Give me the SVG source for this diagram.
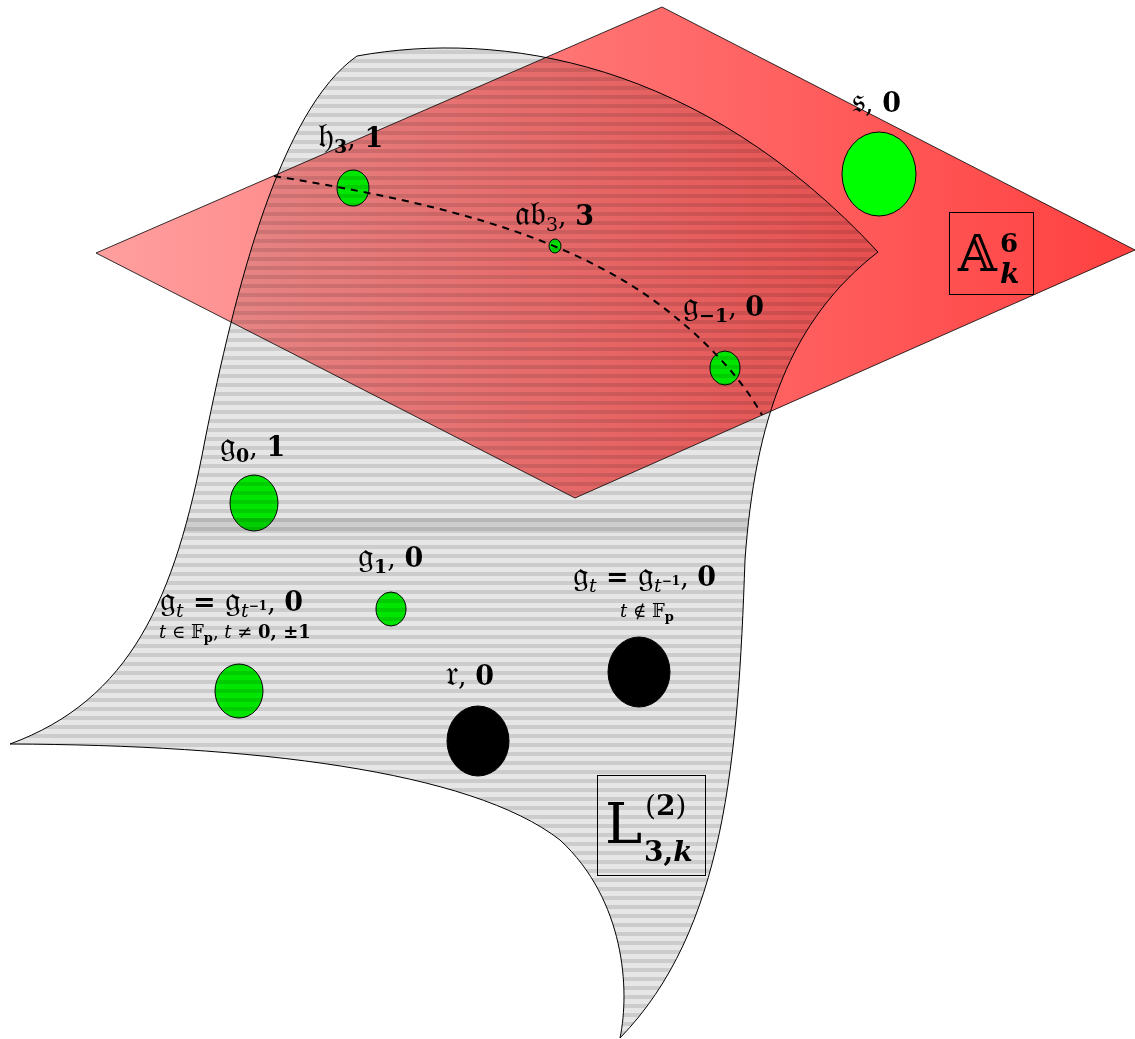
<svg xmlns="http://www.w3.org/2000/svg" width="1135" height="1039" viewBox="0 0 1135 1039">
<style>
.lbl{font-family:"DejaVu Serif","Liberation Serif",serif;font-size:27px;font-weight:bold;fill:#000}
.frak{font-family:"DejaVu Serif","DejaVu Sans","Noto Sans",serif;font-weight:normal;font-size:35px}
.it{font-style:italic;font-weight:normal}
.nw{font-weight:normal}
.sub{font-size:19px}
.sm{font-size:18px}
.dot{fill:#00ff00;stroke:#000;stroke-width:1}
.blk{fill:#000;stroke:#000;stroke-width:1}
.box{fill:none;stroke:#000;stroke-width:1}
</style>
<defs>
<linearGradient id="red" x1="96" y1="0" x2="1135" y2="0" gradientUnits="userSpaceOnUse">
<stop offset="0" stop-color="#ff9f9f"/>
<stop offset="1" stop-color="#ff4040"/>
</linearGradient>
<pattern id="stripes" x="0" y="0" width="10" height="9" patternUnits="userSpaceOnUse">
<rect x="0" y="0" width="10" height="5" fill="#e6e6e6"/>
<rect x="0" y="5" width="10" height="4" fill="#cccccc"/>
</pattern>
<clipPath id="surfClip">
<path d="M357,56 C500,30 700,60 878,252 C790,320 755,420 745,560 C738,760 725,930 620,1038 C630,990 625,900 560,840 C470,770 250,745 10,744 C130,700 175,600 205,440 C235,290 280,110 357,56 Z"/>
</clipPath>
</defs>
<rect width="1135" height="1039" fill="#fff"/>
<g id="plane">
<path d="M662,7 L1135,250 L575,498 L96,253 Z" fill="url(#red)" stroke="#000" stroke-width="0.8"/>
</g>
<g id="nodes">
<g id="n-s"><ellipse class="dot" cx="879" cy="174" rx="37" ry="42"/></g>
<g id="n-h3"><ellipse class="dot" cx="353" cy="188" rx="16" ry="18"/></g>
<g id="n-ab3"><ellipse class="dot" cx="555" cy="246" rx="6" ry="7"/></g>
<g id="n-gm1"><ellipse class="dot" cx="725" cy="368" rx="15" ry="17"/></g>
<g id="n-g0"><ellipse class="dot" cx="254" cy="503" rx="24" ry="28"/></g>
<g id="n-g1"><ellipse class="dot" cx="391" cy="609" rx="15" ry="17"/></g>
<g id="n-gt"><ellipse class="dot" cx="239" cy="691" rx="24" ry="27"/></g>
<g id="n-gt2"><ellipse class="blk" cx="639" cy="672" rx="31" ry="35"/></g>
<g id="n-r"><ellipse class="blk" cx="478" cy="741" rx="31" ry="35"/></g>
</g>
<g id="surface" style="mix-blend-mode:multiply">
<path d="M357,56 C500,30 700,60 878,252 C790,320 755,420 745,560 C738,760 725,930 620,1038 C630,990 625,900 560,840 C470,770 250,745 10,744 C130,700 175,600 205,440 C235,290 280,110 357,56 Z" fill="url(#stripes)"/>
<rect x="0" y="518" width="1135" height="15" fill="#000" fill-opacity="0.1" clip-path="url(#surfClip)"/>
</g>
<g id="surface-outline">
<path d="M357,56 C500,30 700,60 878,252 C790,320 755,420 745,560 C738,760 725,930 620,1038 C630,990 625,900 560,840 C470,770 250,745 10,744 C130,700 175,600 205,440 C235,290 280,110 357,56 Z" fill="none" stroke="#000" stroke-width="1"/>
</g>
<g id="connectors">
<path d="M274,176 C420,200 560,230 660,305 C700,335 740,375 762,415" fill="none" stroke="#000" stroke-width="2" stroke-dasharray="7,6"/>
</g>
<g id="labels">
<text class="lbl" x="318" y="147"><tspan class="frak">𝔥</tspan><tspan class="sub" dy="6">3</tspan><tspan dy="-6" class="nw">, </tspan>1</text>
<text class="lbl" x="515" y="225"><tspan class="frak">𝔞𝔟</tspan><tspan class="sub nw" dy="6">3</tspan><tspan dy="-6" class="nw">, </tspan>3</text>
<text class="lbl" x="683" y="316"><tspan class="frak">𝔤</tspan><tspan class="sub" dy="6">−1</tspan><tspan dy="-6" class="nw">, </tspan>0</text>
<text class="lbl" x="852" y="112"><tspan class="frak">𝔰</tspan><tspan class="nw">, </tspan>0</text>
<text class="lbl" x="220" y="456"><tspan class="frak">𝔤</tspan><tspan class="sub" dy="6">0</tspan><tspan dy="-6" class="nw">, </tspan>1</text>
<text class="lbl" x="358" y="567"><tspan class="frak">𝔤</tspan><tspan class="sub" dy="6">1</tspan><tspan dy="-6" class="nw">, </tspan>0</text>
<text class="lbl" x="160" y="611"><tspan class="frak">𝔤</tspan><tspan class="it sub" dy="6">t</tspan><tspan dy="-6"> = </tspan><tspan class="frak">𝔤</tspan><tspan class="it sub" dy="6">t</tspan><tspan style="font-size:12px" dy="-7">−1</tspan><tspan dy="1" class="nw">, </tspan>0</text>
<text class="lbl sm" x="159" y="638"><tspan class="it">t</tspan><tspan class="nw"> ∈ 𝔽</tspan><tspan style="font-size:13px" dy="4">p</tspan><tspan dy="-4" class="nw">, </tspan><tspan class="it">t</tspan><tspan class="nw"> ≠ </tspan>0, ±1</text>
<text class="lbl" x="573" y="586"><tspan class="frak">𝔤</tspan><tspan class="it sub" dy="6">t</tspan><tspan dy="-6"> = </tspan><tspan class="frak">𝔤</tspan><tspan class="it sub" dy="6">t</tspan><tspan style="font-size:12px" dy="-7">−1</tspan><tspan dy="1" class="nw">, </tspan>0</text>
<text class="lbl sm" x="620" y="617"><tspan class="it">t</tspan><tspan class="nw"> ∉ 𝔽</tspan><tspan style="font-size:13px" dy="4">p</tspan></text>
<text class="lbl" x="446" y="685"><tspan class="frak">𝔯</tspan><tspan class="nw">, </tspan>0</text>
</g>
<g id="box-A">
<rect class="box" x="949.5" y="212.5" width="84" height="82"/>
<text class="lbl" x="958" y="271" style="font-size:50px;font-weight:normal">𝔸</text>
<text class="lbl" x="1000" y="252" style="font-size:26px">6</text>
<text class="lbl" x="1000" y="283" style="font-size:28px;font-style:italic">k</text>
</g>
<g id="box-L">
<rect class="box" x="597.5" y="775.5" width="108" height="100"/>
<text class="lbl" x="605" y="843" style="font-size:56px;font-weight:normal">L</text>
<text class="lbl" x="645" y="815" style="font-size:28px"><tspan class="nw">(</tspan>2<tspan class="nw">)</tspan></text>
<text class="lbl" x="644" y="861" style="font-size:28px">3,<tspan style="font-style:italic">k</tspan></text>
</g>
</svg>
